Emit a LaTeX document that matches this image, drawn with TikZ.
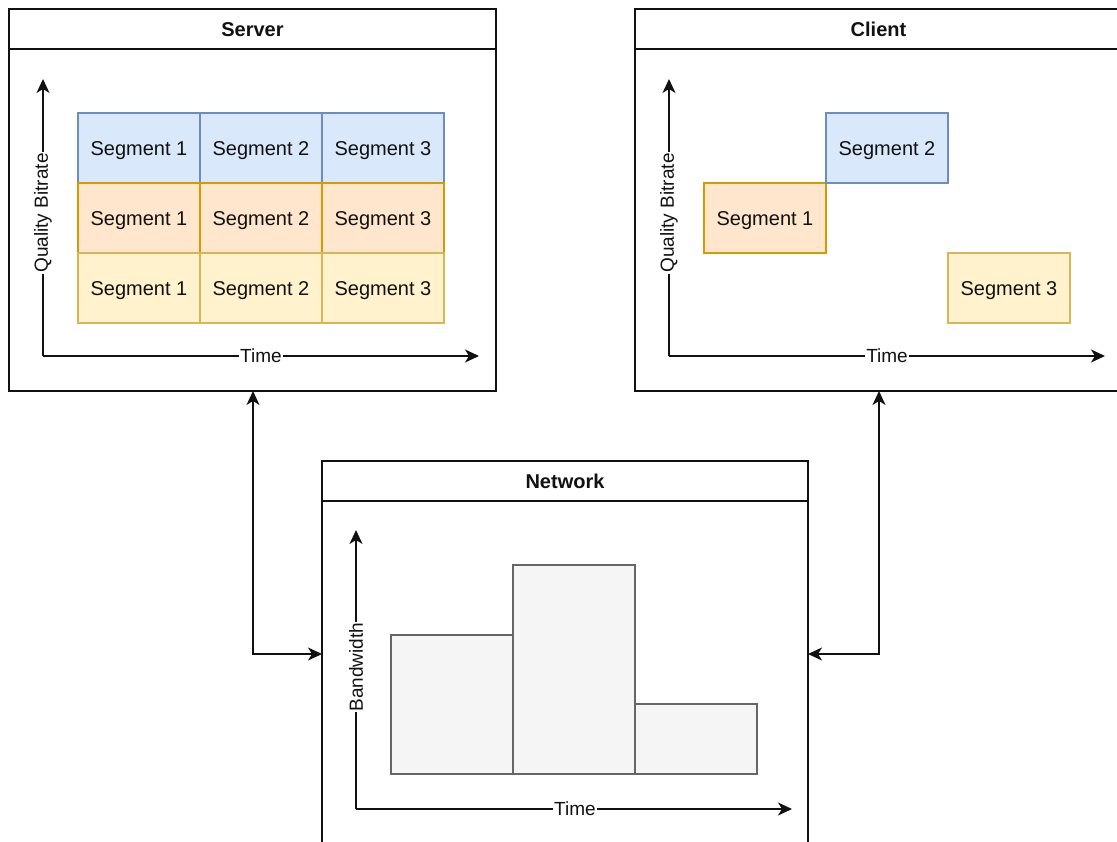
\documentclass[tikz,border=0pt]{standalone}
\usepackage{fontspec}
\setmainfont{Liberation Sans}
\usetikzlibrary{arrows.meta}
\definecolor{bluef}{HTML}{DAE8FC}
\definecolor{bluel}{HTML}{6C8EBF}
\definecolor{orangef}{HTML}{FFE6CC}
\definecolor{orangel}{HTML}{D79B00}
\definecolor{yellowf}{HTML}{FFF2CC}
\definecolor{yellowl}{HTML}{D6B656}
\definecolor{grayf}{HTML}{F5F5F5}
\definecolor{grayl}{HTML}{666666}
\definecolor{ink}{HTML}{111111}
\newcommand{\segfont}{\fontsize{20}{24}\selectfont}
\newcommand{\labfont}{\fontsize{19}{22}\selectfont}
\newcommand{\titfont}{\fontsize{20}{24}\selectfont\bfseries}
\tikzset{
  frame/.style={draw=ink, line width=1.6pt, fill=white, inner sep=0pt, outer sep=0pt, anchor=north west},
  header/.style={frame, font=\titfont, text=ink, text depth=0pt, text height=14.5pt},
  seg/.style={draw, line width=1.2pt, minimum width=122pt, minimum height=70pt, inner sep=0pt, outer sep=0pt, anchor=north west, font=\segfont, text=ink, text depth=0pt, text height=14.5pt},
  blueseg/.style={seg, fill=bluef, draw=bluel},
  orangeseg/.style={seg, fill=orangef, draw=orangel},
  yellowseg/.style={seg, fill=yellowf, draw=yellowl},
  bar/.style={draw=grayl, fill=grayf, line width=1.2pt, minimum width=122pt, inner sep=0pt, outer sep=0pt, anchor=south west},
  tip/.tip={Stealth[length=14pt,width=13pt,inset=4pt]},
  axis/.style={draw=ink, line width=1.6pt, -tip},
  link/.style={draw=ink, line width=1.6pt, tip-tip},
  axlab/.style={fill=white, inner sep=1pt, font=\labfont, text=ink},
}
\begin{document}
\begin{tikzpicture}[x=1pt,y=-1pt]
\useasboundingbox (0,0) rectangle (1117,842);
\clip (0,0) rectangle (1117,842);

% ---------- Server ----------
\node[header, minimum width=487pt, minimum height=40pt] (shead) at (9,9) {Server};
\node[frame, minimum width=487pt, minimum height=342pt] (sbody) at (9,49) {};
\coordinate (so) at (43,356);
\coordinate (sy) at (43,79);
\coordinate (sx) at (479,356);
\draw[axis] (so) -- (sy);
\draw[axis] (so) -- (sx);
\node[axlab, rotate=90] (sylab) at (43,213) {Quality Bitrate};
\node[axlab] (sxlab) at (261,356) {Time};

\node[blueseg] (s11) at (78,113) {Segment 1};
\node[blueseg] (s12) at (200,113) {Segment 2};
\node[blueseg] (s13) at (322,113) {Segment 3};
\node[orangeseg] (s21) at (78,183) {Segment 1};
\node[orangeseg] (s22) at (200,183) {Segment 2};
\node[orangeseg] (s23) at (322,183) {Segment 3};
\node[yellowseg] (s31) at (78,253) {Segment 1};
\node[yellowseg] (s32) at (200,253) {Segment 2};
\node[yellowseg] (s33) at (322,253) {Segment 3};

% ---------- Client ----------
\node[header, minimum width=487pt, minimum height=40pt] (chead) at (635,9) {Client};
\node[frame, minimum width=487pt, minimum height=342pt] (cbody) at (635,49) {};
\coordinate (co) at (669,356);
\coordinate (cy) at (669,79);
\coordinate (cx) at (1105,356);
\draw[axis] (co) -- (cy);
\draw[axis] (co) -- (cx);
\node[axlab, rotate=90] (cylab) at (669,213) {Quality Bitrate};
\node[axlab] (cxlab) at (887,356) {Time};

\node[orangeseg] (c1) at (704,183) {Segment 1};
\node[blueseg] (c2) at (826,113) {Segment 2};
\node[yellowseg] (c3) at (948,253) {Segment 3};

% ---------- Network ----------
\node[header, minimum width=486pt, minimum height=40pt] (nhead) at (322,461) {Network};
\node[frame, minimum width=486pt, minimum height=400pt] (nbody) at (322,501) {};
\coordinate (no) at (356,809);
\coordinate (ny) at (356,530);
\coordinate (nx) at (792,809);
\draw[axis] (no) -- (ny);
\draw[axis] (no) -- (nx);
\node[axlab, rotate=90] (nylab) at (356,667) {Bandwidth};
\node[axlab] (nxlab) at (575,809) {Time};

\node[bar, minimum height=139pt] (b1) at (391,774) {};
\node[bar, minimum height=209pt] (b2) at (513,774) {};
\node[bar, minimum height=70pt] (b3) at (635,774) {};

% ---------- Connectors ----------
\coordinate (sl) at (253,654);
\coordinate (cl) at (879,654);
\draw[link] (sbody.south -| sl) |- (nbody.west |- sl);
\draw[link] (cbody.south -| cl) |- (nbody.east |- cl);
\end{tikzpicture}
\end{document}
